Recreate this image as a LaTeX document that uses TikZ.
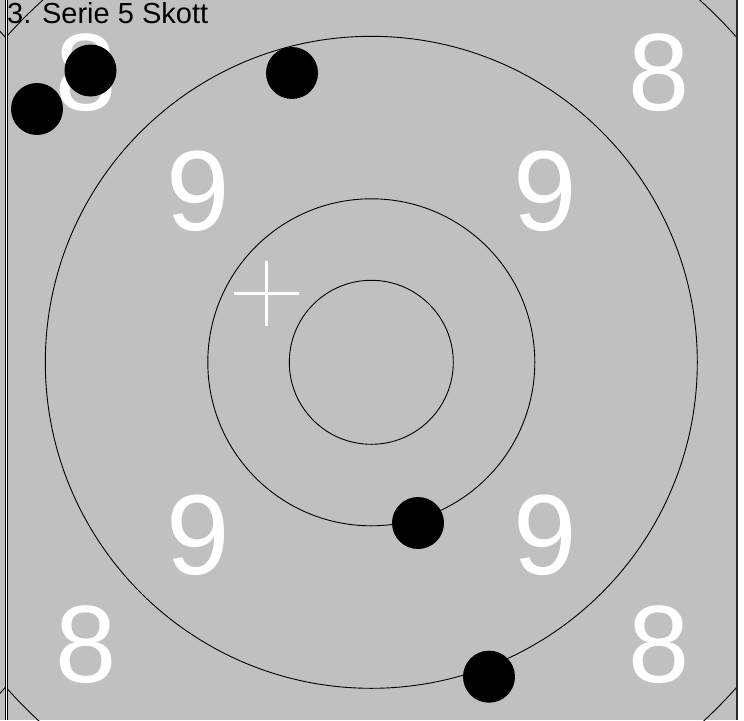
\documentclass[tikz,border=0pt]{standalone}
\usepackage{fontspec}
\setmainfont{Liberation Sans}
\definecolor{targetgray}{RGB}{192,192,192}
\begin{document}
\begin{tikzpicture}[x=1pt, y=-1pt,
    ring/.style={draw=black, line width=0.9pt},
    shot/.style={circle, fill=black, minimum size=52pt, inner sep=0pt},
    ninelabel/.style={text=white, inner sep=0pt, font=\fontsize{114}{114}\selectfont},
    eightlabel/.style={text=white, inner sep=0pt, font=\fontsize{110}{110}\selectfont},
    aimline/.style={draw=white, line width=2.6pt}
]
\useasboundingbox (0,0) rectangle (744,720);
\fill[white] (0,0) rectangle (744,720);
\fill[targetgray] (0,0) rectangle (737,720);
\coordinate (centre) at (371.3,362.3);
% rings
\draw[ring] (centre) circle (82);
\draw[ring] (centre) circle (163.5);
\draw[ring] (centre) circle (326);
\begin{scope}
  \clip (6,0) rectangle (737,720);
  \draw[ring] (centre) circle (489);
\end{scope}
\begin{scope}
  \clip (0,0) rectangle (5,720);
  \draw[ring] (-360,362.3) circle (489);
\end{scope}
% frame
\draw[black, line width=3pt] (6,0) -- (6,720);
\draw[white, line width=1pt] (6,0) -- (6,720);
\draw[black!85, line width=1.5pt] (737,0) -- (737,720);
% ring numbers
\node[eightlabel] (eightA) at (86,73) {8};
\node[eightlabel] (eightB) at (659,73) {8};
\node[ninelabel] (nineA) at (198.3,191.7) {9};
\node[ninelabel] (nineB) at (545,191.7) {9};
\node[ninelabel] (nineC) at (198.3,535) {9};
\node[ninelabel] (nineD) at (545,535) {9};
\node[eightlabel] (eightC) at (86,645) {8};
\node[eightlabel] (eightD) at (659,645) {8};
% aim cross
\coordinate (aim) at (266.7,293.3);
\draw[aimline] ([xshift=-32.7pt]aim) -- ([xshift=32.7pt]aim);
\draw[aimline] ([yshift=32.7pt]aim) -- ([yshift=-32.7pt]aim);
% shots
\node[shot] (shot1) at (37,109) {};
\node[shot] (shot2) at (90.5,70.5) {};
\node[shot] (shot3) at (292,73) {};
\node[shot] (shot4) at (418,523) {};
\node[shot] (shot5) at (489,676.7) {};
\node[anchor=base west, inner sep=0pt, font=\fontsize{29}{29}\selectfont] (title) at (7,23.5) {3. Serie 5 Skott};
\end{tikzpicture}
\end{document}
